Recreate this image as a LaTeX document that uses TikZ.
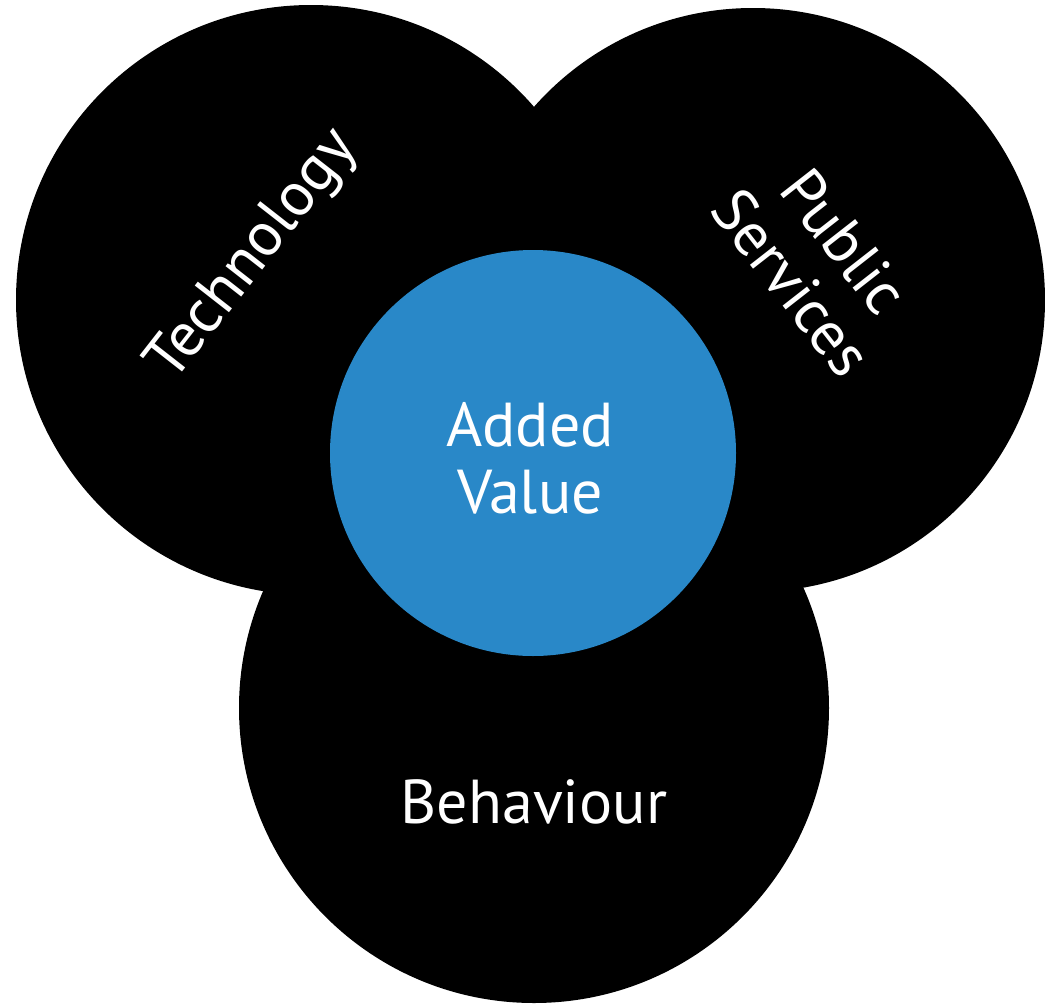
\documentclass[tikz,border=0pt]{standalone}
\usepackage{fontspec}
\setmainfont{PT Sans}
\usepackage{xcolor}
\usetikzlibrary{positioning}
\definecolor{valblue}{RGB}{41,136,200}

\begin{document}
\begin{tikzpicture}[x=1pt, y=-1pt, blob/.style={circle, fill=black, inner sep=0pt}, core/.style={circle, fill=valblue, inner sep=0pt, minimum size=406pt}, lbl/.style={text=white, align=center, font=\fontsize{62}{67}\selectfont}]
\useasboundingbox[fill=white] (0,0) rectangle (1045,1004);
\node[blob, minimum size=590pt] (tech) at (311,300){};
\node[blob, minimum size=584pt] (pub) at (753,300){};
\node[blob, minimum size=590pt] (beh) at (534,708){};
\node[core] (val) at (533,453){};
\node[lbl, rotate=52] (techtxt) at (254,256){Technology};
\node[lbl, rotate=-52] (pubtxt) at (818,262){Public\\Services};
\node[lbl] (behtxt) at (534,802){Behaviour};
\node[lbl] (valtxt) at (530,458){Added\\Value};
\end{tikzpicture}
\end{document}
